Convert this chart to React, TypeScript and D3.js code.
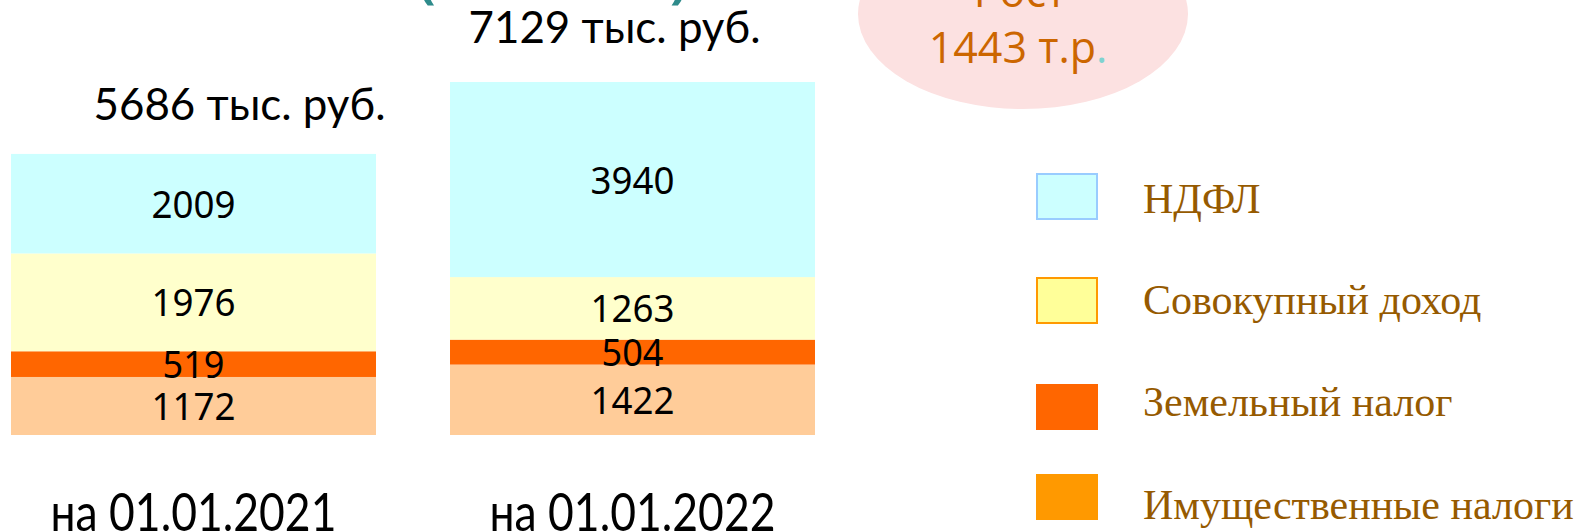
import React, { FC, useMemo } from 'react'
import * as d3 from 'd3'

// категории и значения (тыс. руб.)
const categories = ['на 01.01.2021', 'на 01.01.2022']
const ndfl = [2009, 3940]
const sovok = [1976, 1263]
const zem = [519, 504]
const imush = [1172, 1422]
const totalLabels = ['5686 тыс. руб.', '7129 тыс. руб.']
const growthLabel = '1443 т.р'

const seriesNames = ['НДФЛ', 'Совокупный доход', 'Земельный налог', 'Имущественные налоги']
const seriesKeys = ['ndfl', 'sovok', 'zem', 'imush']

const barColors: Record<string, string> = {
	ndfl: '#CCFFFF',
	sovok: '#FFFFCC',
	zem: '#FF6600',
	imush: '#FFCC99'
}
const legendFill = ['#CCFFFF', '#FFFF99', '#FF6600', '#FF9900']
const legendStroke = ['#99CCFF', '#FF9900', 'none', 'none']

const W = 1585
const H = 531

const App: FC = () => {
	const rows = useMemo(
		() =>
			categories.map((c, i) => ({
				cat: c,
				ndfl: ndfl[i],
				sovok: sovok[i],
				zem: zem[i],
				imush: imush[i]
			})),
		[]
	)

	// снизу вверх: имущественные, земельный, совокупный, НДФЛ
	const stacked = useMemo(() => {
		return d3
			.stack<any>()
			.keys(['imush', 'zem', 'sovok', 'ndfl'])(rows)
	}, [rows])

	const maxValue = d3.max(stacked[stacked.length - 1], d => d[1]) as number

	const xScale = d3
		.scaleBand()
		.domain(categories)
		.range([11, 815])
		.paddingInner(0.1686)
		.paddingOuter(0)

	const yScale = d3.scaleLinear().domain([0, maxValue]).range([435, 82])

	const totalShift = [46, -18]
	const totalGap = [34, 39]

	const legendTop = [174, 278, 384, 474]
	const legendBase = [213, 314, 416, 519]

	return (
		<div style={{ position: 'absolute', left: 0, top: 0 }}>
			<svg width={W} height={H} style={{ display: 'block', background: '#fff' }}>
				{/* обрезанный заголовок */}
				<text x={418} y={-3} fill="#2E8B8B" fontSize={52} fontFamily="Open Sans" fontWeight={700}>(</text>
				<text x={670} y={-3} fill="#2E8B8B" fontSize={52} fontFamily="Open Sans" fontWeight={700}>)</text>

				{/* столбцы */}
				<g>
					{stacked.map(layer =>
						layer.map((d, i) => (
							<rect
								key={layer.key + i}
								x={xScale(categories[i])}
								y={yScale(d[1])}
								width={xScale.bandwidth()}
								height={yScale(d[0]) - yScale(d[1])}
								fill={barColors[layer.key]}
							/>
						))
					)}
				</g>

				{/* подписи значений */}
				<g fontFamily="'Noto Sans', 'Open Sans', sans-serif" fontSize={38} fill="#000" textAnchor="middle">
					{stacked.map(layer =>
						layer.map((d, i) => (
							<text
								key={'t' + layer.key + i}
								x={(xScale(categories[i]) as number) + xScale.bandwidth() / 2}
								y={(yScale(d[0]) + yScale(d[1])) / 2 + 14}
								textLength={layer.key === 'zem' ? 62 : 84}
								lengthAdjust="spacingAndGlyphs"
							>
								{d[1] - d[0]}
							</text>
						))
					)}
				</g>

				{/* итоги над столбцами */}
				<g fontFamily="Lato, 'DejaVu Sans', sans-serif" fontSize={44} fill="#000" textAnchor="middle">
					{totalLabels.map((t, i) => {
						const top = yScale(stacked[stacked.length - 1][i][1])
						return (
							<text
								key={t}
								x={(xScale(categories[i]) as number) + xScale.bandwidth() / 2 + totalShift[i]}
								y={top - totalGap[i]}
								textLength={292}
								lengthAdjust="spacingAndGlyphs"
							>
								{t}
							</text>
						)
					})}
				</g>

				{/* подписи категорий */}
				<g fontFamily="Lato, 'DejaVu Sans', sans-serif" fontSize={52} fill="#000" textAnchor="middle">
					{categories.map(c => (
						<text
							key={c}
							x={(xScale(c) as number) + xScale.bandwidth() / 2}
							y={531}
							textLength={286}
							lengthAdjust="spacingAndGlyphs"
						>
							{c}
						</text>
					))}
				</g>

				{/* рост */}
				<ellipse cx={1023} cy={14} rx={165} ry={95} fill="#FCE1E1" />
				<g fontFamily="'Open Sans', 'Noto Sans', sans-serif" fontSize={43} fill="#CC6600" textAnchor="middle">
					<text x={1020} y={7}>Рост</text>
					<text x={1018} y={63}>
						{growthLabel}
						<tspan fill="#7FD3D0">.</tspan>
					</text>
				</g>

				{/* легенда */}
				<g>
					{seriesKeys.map((k, i) => (
						<g key={k}>
							<rect
								x={legendStroke[i] === 'none' ? 1036 : 1037}
								y={legendTop[i]}
								width={legendStroke[i] === 'none' ? 62 : 60}
								height={legendStroke[i] === 'none' ? 46 : 45}
								fill={legendFill[i]}
								stroke={legendStroke[i]}
								strokeWidth={2}
							/>
							<text
								x={1143}
								y={legendBase[i]}
								fontFamily="'Liberation Serif', 'DejaVu Serif', serif"
								fontSize={42}
								fill="#965A00"
							>
								{seriesNames[i]}
							</text>
						</g>
					))}
				</g>
			</svg>
		</div>
	)
}

export default App
